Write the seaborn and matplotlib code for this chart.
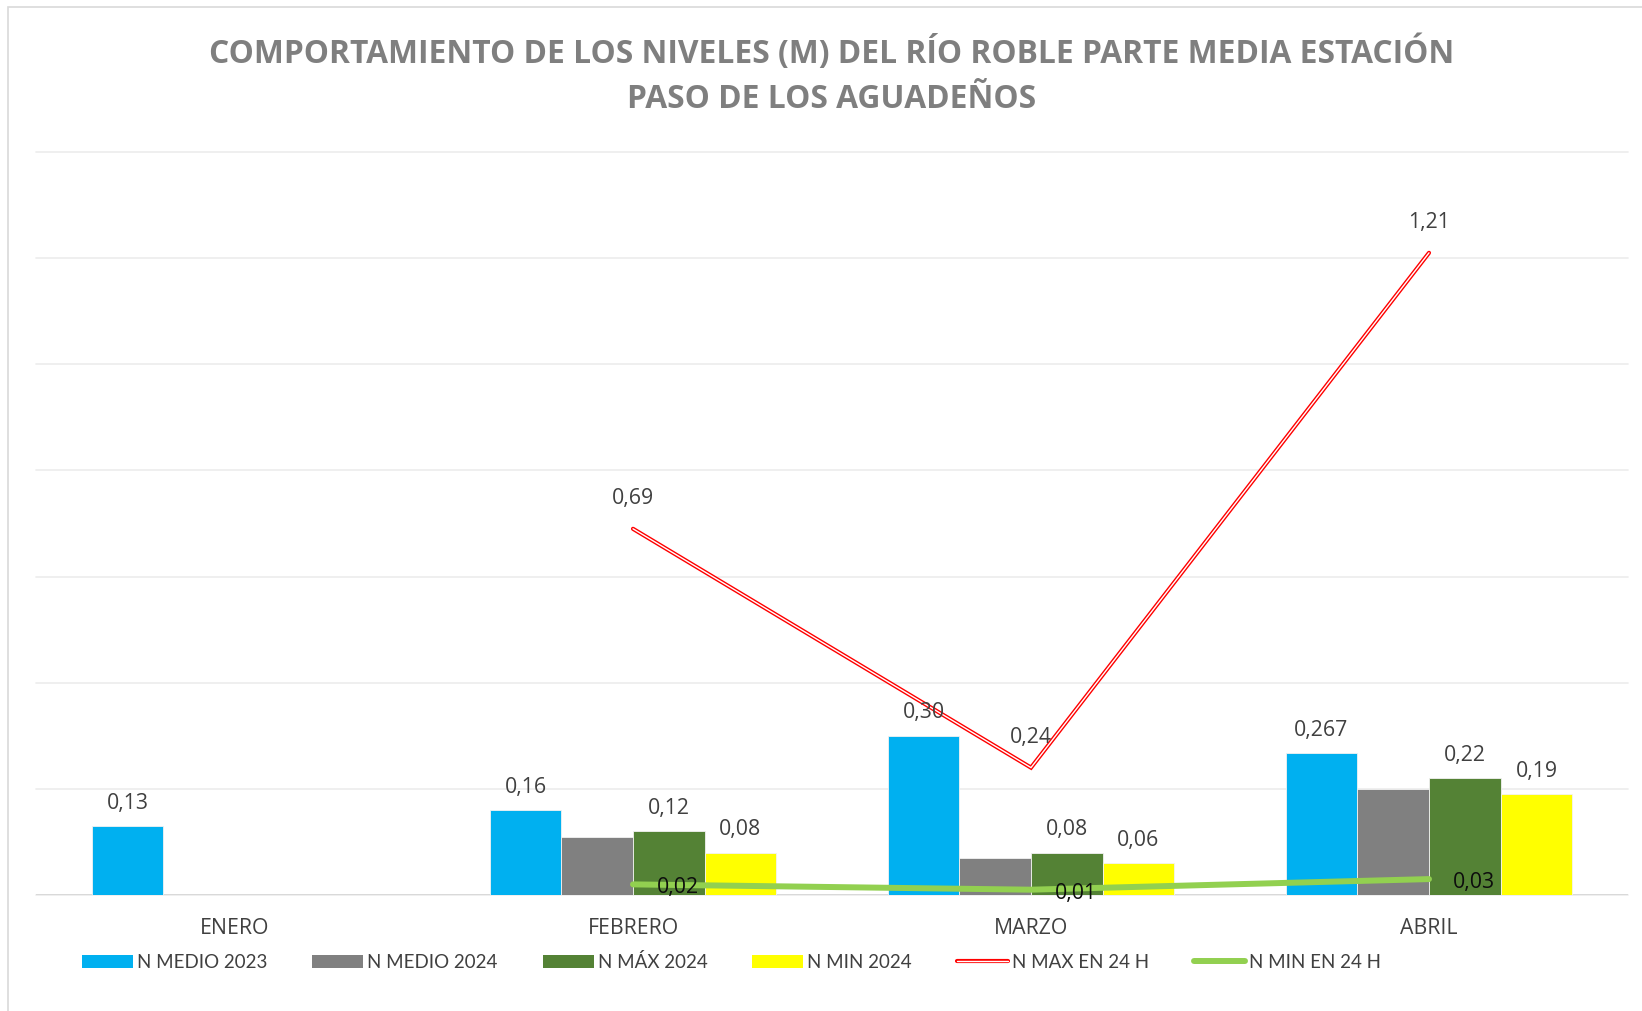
import numpy as np
import pandas as pd
import matplotlib
matplotlib.use("Agg")
import matplotlib.pyplot as plt
import seaborn as sns
from matplotlib import font_manager as fm
from matplotlib.patches import Patch, Rectangle
from matplotlib.lines import Line2D
from matplotlib.legend_handler import HandlerTuple

# ---- data -------------------------------------------------------------
months = ["ENERO", "FEBRERO", "MARZO", "ABRIL"]
n_medio_2023 = [0.13, 0.16, 0.30, 0.267]
n_medio_2024 = [np.nan, 0.11, 0.07, 0.20]
n_max_2024 = [np.nan, 0.12, 0.08, 0.22]
n_min_2024 = [np.nan, 0.08, 0.06, 0.19]
n_max_24h = [np.nan, 0.69, 0.24, 1.21]
n_min_24h = [np.nan, 0.02, 0.01, 0.03]

bar_series = ["N MEDIO 2023", "N MEDIO 2024", "N MÁX 2024", "N MIN 2024"]
bar_values = [n_medio_2023, n_medio_2024, n_max_2024, n_min_2024]
bar_colors = ["#00b0f0", "#808080", "#548235", "#ffff00"]
labelled_series = ["N MEDIO 2023", "N MÁX 2024", "N MIN 2024"]

title_lines = ["COMPORTAMIENTO DE LOS NIVELES (M) DEL RÍO ROBLE PARTE MEDIA ESTACIÓN",
               "PASO DE LOS AGUADEÑOS"]


def pick_font(*names):
    for n in names:
        try:
            fm.findfont(fm.FontProperties(family=n), fallback_to_default=False)
            return n
        except ValueError:
            continue
    return "DejaVu Sans"


label_font = pick_font("Open Sans", "Noto Sans", "DejaVu Sans")
legend_font = pick_font("Lato", "Liberation Sans", "DejaVu Sans")
title_font = pick_font("Open Sans", "Noto Sans", "DejaVu Sans")


def fmt(v):
    s = f"{v:.3f}".rstrip("0")
    whole, dec = s.split(".")
    dec = dec.ljust(2, "0")
    return f"{whole},{dec}"


sns.set_theme(style="white")
plt.rcParams["font.family"] = [label_font, "DejaVu Sans"]

LABEL_SIZE = 15.3

W, H = 1642, 1011
fig = plt.figure(figsize=(W / 100, H / 100), dpi=100)
fig.patch.set_facecolor("white")

ax_left, ax_right, ax_top, ax_bottom = 36, 1628, 152, 895
ax = fig.add_axes([ax_left / W, 1 - ax_bottom / H,
                   (ax_right - ax_left) / W, (ax_bottom - ax_top) / H])

df = pd.DataFrame({
    "mes": np.repeat([months], len(bar_series), axis=0).ravel(),
    "serie": np.repeat(bar_series, len(months)),
    "valor": np.concatenate(bar_values),
})

sns.barplot(data=df, x="mes", y="valor", hue="serie", order=months,
            hue_order=bar_series, palette=bar_colors, width=0.72,
            saturation=1, errorbar=None, legend=False, ax=ax,
            edgecolor="#f2f2f2", linewidth=0.6, zorder=2)

# bar value labels
for name, cont in zip(bar_series, ax.containers):
    if name not in labelled_series:
        continue
    for bar in cont:
        h = bar.get_height()
        if np.isnan(h):
            continue
        ax.annotate(fmt(h), (bar.get_x() + bar.get_width() / 2, h),
                    xytext=(0, 12.6), textcoords="offset points",
                    ha="center", va="baseline", fontsize=LABEL_SIZE,
                    color="#404040", zorder=6)

# line series on category positions
line_x = [months.index(m) for m in months]
line_df = pd.DataFrame({"x": line_x, "max24": n_max_24h, "min24": n_min_24h}).dropna()

sns.lineplot(data=line_df, x="x", y="max24", color="#ff0000", lw=3.0,
             ax=ax, zorder=4, solid_joinstyle="miter")
sns.lineplot(data=line_df, x="x", y="max24", color="white", lw=1.0,
             ax=ax, zorder=4.1, solid_joinstyle="miter")
sns.lineplot(data=line_df, x="x", y="min24", color="#92d050", lw=4.3,
             ax=ax, zorder=4.2, solid_capstyle="round")

for x, v in zip(line_df["x"], line_df["max24"]):
    ax.annotate(fmt(v), (x, v), xytext=(0, 18), textcoords="offset points",
                ha="center", va="baseline", fontsize=LABEL_SIZE,
                color="#404040", zorder=6)
for x, v in zip(line_df["x"], line_df["min24"]):
    ax.annotate(fmt(v), (x, v), xytext=(17.3, -6.5), textcoords="offset points",
                ha="left", va="baseline", fontsize=LABEL_SIZE,
                color="#0d0d0d", zorder=6)

# axes styling
ax.set_xlim(-0.5, len(months) - 0.5)
ax.set_ylim(0, 1.4)
ax.set_yticks(np.arange(0, 1.41, 0.2))
ax.set_yticklabels([])
ax.tick_params(axis="y", length=0)
ax.tick_params(axis="x", length=0, pad=16.5, labelsize=LABEL_SIZE,
               labelcolor="#404040")
ax.set_xlabel("")
ax.set_ylabel("")
for s in ax.spines.values():
    s.set_visible(False)
ax.yaxis.grid(True, color="#ececec", lw=1.2, zorder=0)
ax.set_axisbelow(True)
ax.axhline(0, color="#d9d9d9", lw=1.4, zorder=1.5)
for g in ax.get_ygridlines():
    g.set_clip_on(False)

# title, fitted to its span
fig.canvas.draw()
renderer = fig.canvas.get_renderer()
t1 = fig.text(832 / W, 1 - 53 / H, title_lines[0], ha="center", va="center",
              fontsize=20, fontweight="bold", color="#7f7f7f", family=title_font)
bb = t1.get_window_extent(renderer)
size = 20 * 1247 / bb.width
t1.set_fontsize(size)
fig.text(832 / W, 1 - 100 / H, title_lines[1], ha="center", va="center",
         fontsize=size, fontweight="bold", color="#7f7f7f", family=title_font)

# legend
handles = [Patch(facecolor=c, edgecolor="none") for c in bar_colors]
handles.append((Line2D([], [], color="#ff0000", lw=3.0),
                Line2D([], [], color="white", lw=1.0)))
handles.append(Line2D([], [], color="#92d050", lw=4.3, solid_capstyle="round"))
labels = bar_series + ["N MAX EN 24 H", "N MIN EN 24 H"]
fig.legend(handles, labels, loc="center left",
           bbox_to_anchor=(82 / W, 1 - 962 / H), ncol=6, frameon=False,
           prop={"family": legend_font, "size": 13.5},
           labelcolor="#404040", handlelength=2.72, handleheight=0.7,
           handletextpad=0.21, columnspacing=2.4, borderpad=0,
           borderaxespad=0, handler_map={tuple: HandlerTuple(ndivide=1)})

# chart frame
fig.patches.append(Rectangle((8 / W, -0.05), 1.2, 1.05 - 7 / H,
                             transform=fig.transFigure, fill=False,
                             edgecolor="#d9d9d9", lw=1.2, zorder=0))

fig.savefig("out.png", dpi=100, facecolor="white")
